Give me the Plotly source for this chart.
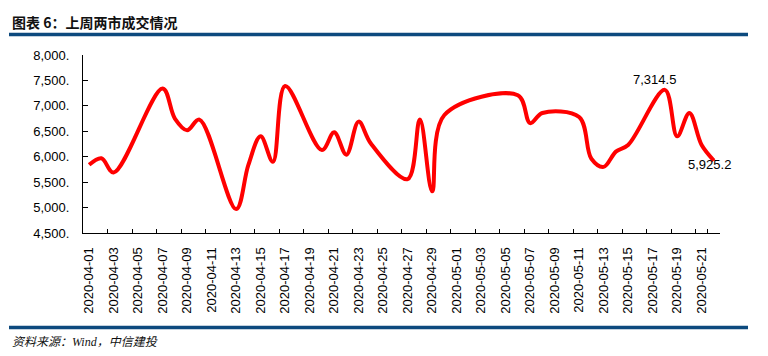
import pandas as pd
import plotly.graph_objects as go

# ---- data ----
trade_dates = ["2020-04-01", "2020-04-02", "2020-04-03", "2020-04-07", "2020-04-08",
               "2020-04-09", "2020-04-10", "2020-04-13", "2020-04-14", "2020-04-15",
               "2020-04-16", "2020-04-17", "2020-04-20", "2020-04-21", "2020-04-22",
               "2020-04-23", "2020-04-24", "2020-04-27", "2020-04-28", "2020-04-29",
               "2020-04-30", "2020-05-06", "2020-05-07", "2020-05-08", "2020-05-11",
               "2020-05-12", "2020-05-13", "2020-05-14", "2020-05-15", "2020-05-18",
               "2020-05-19", "2020-05-20", "2020-05-21", "2020-05-22"]
turnover = [5840, 5970, 5690, 7340, 6750,
            6520, 6730, 4970, 5840, 6400,
            5900, 7390, 6130, 6480, 6040,
            6690, 6260, 5560, 6730, 5320,
            6820, 7210, 6660, 6860, 6780,
            5960, 5800, 6100, 6230, 7314.5,
            6400, 6860, 6230, 5925.2]
y_tick_vals = [4500, 5000, 5500, 6000, 6500, 7000, 7500, 8000]
y_tick_text = ["4,500.", "5,000.", "5,500.", "6,000.", "6,500.", "7,000.", "7,500.", "8,000."]
labelled_dates = ["2020-05-18", "2020-05-22"]

title_text = "图表 6：上周两市成交情况"
source_text = "资料来源：Wind，中信建投"

# ---- build full calendar axis ----
all_days = [d.strftime("%Y-%m-%d") for d in pd.date_range("2020-04-01", "2020-05-22")]
lookup = dict(zip(trade_dates, turnover))
y_full = [lookup.get(d) for d in all_days]

fig = go.Figure()
fig.add_trace(go.Scatter(
    x=all_days, y=y_full, mode="lines", connectgaps=True,
    line=dict(color="#FF0000", width=4, shape="spline", smoothing=1.0),
    hoverinfo="skip", showlegend=False,
))

label_shifts = {"2020-05-18": (-10, 10), "2020-05-22": (-4, -4)}
for d in labelled_dates:
    v = lookup[d]
    xs, ys = label_shifts[d]
    fig.add_annotation(x=d, y=v, xref="x", yref="y", text=f"{v:,.1f}",
                       showarrow=False, xshift=xs, yshift=ys,
                       font=dict(family="Liberation Sans, Arial", size=13, color="#000000"))

W, H = 768, 356
L, R, T, B = 83, 48, 55, 123
pw, ph = W - L - R, H - T - B

def px_x(p):
    return (p - L) / pw

def px_y(p):
    return (H - B - p) / ph

fig.add_annotation(x=px_x(10), y=px_y(22.5), xref="paper", yref="paper",
                   xanchor="left", yanchor="middle", showarrow=False,
                   text=f"<b>{title_text}</b>",
                   font=dict(family="Noto Sans CJK SC, Liberation Sans", size=14, color="#111111"))
fig.add_annotation(x=px_x(10), y=px_y(342), xref="paper", yref="paper",
                   xanchor="left", yanchor="middle", showarrow=False,
                   text=f"<i>{source_text}</i>",
                   font=dict(family="Liberation Serif, Noto Sans CJK SC", size=12, color="#111111"))

for py in (34.5, 327.5):
    fig.add_shape(type="line", xref="paper", yref="paper",
                  x0=px_x(9), x1=px_x(748), y0=px_y(py), y1=px_y(py),
                  line=dict(color="#0D4A7E", width=3.5))

fig.update_layout(
    width=W, height=H,
    margin=dict(l=L, r=R, t=T, b=B, pad=0),
    paper_bgcolor="white", plot_bgcolor="white",
    font=dict(family="Liberation Sans, Arial", size=13, color="#000000"),
    xaxis=dict(type="category", categoryorder="array", categoryarray=all_days,
               range=[-0.5, len(all_days) - 0.5],
               tickmode="array", tickvals=all_days[::2], ticktext=all_days[::2],
               tickson="boundaries", ticks="inside", ticklen=4, tickcolor="#000",
               tickangle=-90, showline=True, linecolor="#000", linewidth=1,
               showgrid=False, zeroline=False, ticklabelstandoff=8,
               tickfont=dict(size=13)),
    yaxis=dict(range=[4500, 8000], tickmode="array", tickvals=y_tick_vals,
               ticktext=y_tick_text, ticks="inside", ticklen=5, tickcolor="#000",
               showline=True, linecolor="#000", linewidth=1, showgrid=False,
               zeroline=False, ticklabelstandoff=10, tickfont=dict(size=13)),
)

fig.write_html("out.html", config={"displayModeBar": False},
               post_script="document.body.style.margin='0';document.body.style.padding='0';")
